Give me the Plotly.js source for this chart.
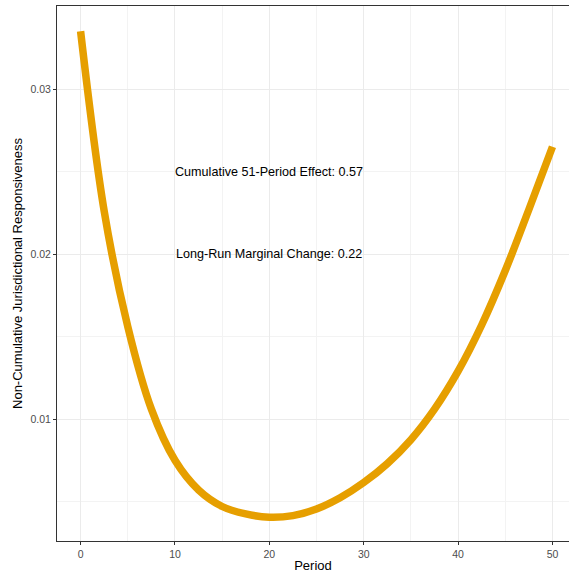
<!DOCTYPE html>
<html>
<head>
<meta charset="utf-8">
<script src="https://cdn.plot.ly/plotly-3.0.1.min.js"></script>
<style>
  html, body { margin: 0; padding: 0; background: #ffffff; }
  #chart { width: 569px; height: 577px; }
</style>
</head>
<body>
<div id="chart"></div>
<script>
// Period-by-period (non-cumulative) responsiveness curve
const period = [0, 2.5, 5, 7.5, 10, 12.5, 15, 17.5, 20, 22.5, 25,
                27.5, 30, 32.5, 35, 37.5, 40, 42.5, 45, 47.5, 50];
const responsiveness = [0.0335, 0.0226, 0.0156, 0.0106, 0.0075, 0.0057, 0.0047, 0.00425,
                        0.00405, 0.00415, 0.00455, 0.00523, 0.00615, 0.0073, 0.00875,
                        0.0106, 0.0129, 0.0157, 0.0190, 0.0227, 0.0265];

// Summary labels placed inside the panel
const noteText = ["Cumulative 51-Period Effect: 0.57", "Long-Run Marginal Change: 0.22"];
const noteX = [20, 20];
const noteY = [0.025, 0.02];

const xTicks = [0, 10, 20, 30, 40, 50];
const yTicks = [0.01, 0.02, 0.03];
const yTickText = ["0.01", "0.02", "0.03"];

const trace = {
  x: period,
  y: responsiveness,
  type: "scatter",
  mode: "lines",
  line: { color: "#E69F00", width: 7.5, shape: "spline", smoothing: 1.0 },
  hoverinfo: "skip"
};

const annotations = noteText.map((t, i) => ({
  x: noteX[i], y: noteY[i], xref: "x", yref: "y",
  text: t, showarrow: false,
  font: { family: "Liberation Sans, Arial, sans-serif", size: 12.6, color: "#000000" },
  xanchor: "center", yanchor: "middle"
}));

const gridMajor = "#EBEBEB";
const gridMinor = "#F3F3F3";

const layout = {
  width: 569,
  height: 577,
  margin: { l: 57, r: 0, t: 6, b: 36 },
  paper_bgcolor: "#ffffff",
  plot_bgcolor: "#ffffff",
  showlegend: false,
  font: { family: "Liberation Sans, Arial, sans-serif", color: "#4D4D4D" },
  xaxis: {
    range: [-2.5, 51.75],
    tickvals: xTicks,
    ticktext: xTicks.map(String),
    ticks: "outside",
    ticklen: 3,
    tickwidth: 1,
    tickcolor: "#333333",
    tickfont: { size: 10.5, color: "#4D4D4D" },
    showgrid: true,
    gridcolor: gridMajor,
    gridwidth: 1,
    minor: { dtick: 5, tick0: 0, showgrid: true, gridcolor: gridMinor, gridwidth: 1 },
    showline: true,
    linecolor: "#333333",
    linewidth: 1,
    mirror: true,
    zeroline: false,
    title: { text: "Period", font: { size: 13, color: "#000000" }, standoff: 2 }
  },
  yaxis: {
    range: [0.00261, 0.03503],
    tickvals: yTicks,
    ticktext: yTickText,
    ticks: "outside",
    ticklen: 3,
    tickwidth: 1,
    tickcolor: "#333333",
    tickfont: { size: 10.5, color: "#4D4D4D" },
    showgrid: true,
    gridcolor: gridMajor,
    gridwidth: 1,
    minor: { dtick: 0.005, tick0: 0, showgrid: true, gridcolor: gridMinor, gridwidth: 1 },
    showline: true,
    linecolor: "#333333",
    linewidth: 1,
    zeroline: false,
    title: { text: "Non-Cumulative Jurisdictional Responsiveness", font: { size: 13, color: "#000000" }, standoff: 4 }
  },
  annotations: annotations
};

Plotly.newPlot("chart", [trace], layout, { displayModeBar: false, staticPlot: true });
</script>
</body>
</html>
